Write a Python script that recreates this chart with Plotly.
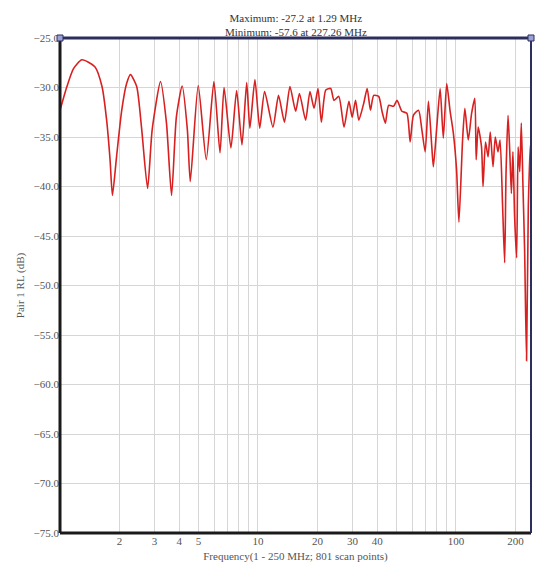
import plotly.graph_objects as go

# frequency (MHz) and return loss (dB)
freq_mhz = [
    1.0, 1.084, 1.17, 1.29, 1.50, 1.63, 1.72, 1.79, 1.84, 1.93, 2.05, 2.17, 2.27,
    2.44, 2.58, 2.77, 2.92, 3.22, 3.45, 3.66, 3.87, 4.14, 4.4, 4.55, 4.99, 5.48,
    5.99, 6.43, 6.74, 7.3, 7.8, 8.3, 8.77, 9.1, 9.65, 10.2, 10.8, 11.9, 12.7,
    13.6, 14.5, 15.5, 16.2, 17.4, 18.3, 19.2, 20.1, 20.9, 22.0, 23.3, 24.2, 25.6,
    27.2, 28.8, 29.9, 31.1, 32.3, 34.2, 35.6, 37.0, 38.4, 40.7, 42.3, 44.0, 45.7,
    48.4, 50.4, 53.3, 56.5, 58.7, 61.0, 64.7, 67.3, 69.9, 72.6, 75.5, 76.9, 80.0,
    83.2, 86.3, 89.8, 93.3, 97.0, 100.7, 103.5, 108.0, 110.9, 115.4, 120.0, 124.5,
    126.5, 129.5, 134.6, 137.0, 141.0, 145.3, 149.0, 153.9, 158.0, 163.0, 167.0,
    172.0, 176.2, 179.0, 183.2, 187.0, 190.5, 194.0, 197.8, 202.5, 206.0, 210.0,
    213.8, 218.0, 222.2, 227.26, 232.0, 238.0, 245.0, 250.0,
]
rl_db = [
    -32.3, -29.9, -28.1, -27.2, -27.9, -29.9, -33.3, -37.3, -40.9, -37.0, -32.3,
    -29.6, -28.7, -29.9, -34.0, -40.2, -34.3, -29.4, -33.6, -40.9, -33.0, -29.85,
    -34.3, -39.5, -29.8, -37.3, -29.4, -36.6, -30.0, -36.1, -30.3, -35.8, -29.5,
    -34.1, -29.2, -34.1, -30.4, -34.0, -30.8, -33.5, -29.9, -32.4, -30.6, -33.3,
    -30.4, -32.1, -30.1, -33.5, -30.25, -30.1, -31.3, -30.9, -34.0, -31.4, -33.0,
    -31.3, -33.3, -31.6, -30.1, -32.3, -30.8, -30.9, -32.4, -33.6, -31.8, -31.9,
    -31.3, -32.4, -32.6, -35.5, -32.8, -32.3, -34.3, -36.5, -31.4, -36.0, -38.0,
    -34.0, -30.1, -35.1, -29.6, -32.3, -34.6, -38.3, -43.6, -35.3, -32.1, -35.3,
    -32.6, -31.1, -37.3, -34.0, -36.0, -40.0, -35.5, -37.0, -34.5, -38.0, -35.0,
    -36.5, -35.3, -42.0, -47.7, -38.7, -32.8, -36.5, -40.7, -36.5, -43.0, -47.2,
    -36.0, -38.5, -33.6, -40.0, -46.4, -57.6, -42.0, -36.0, -34.6, -35.0,
]

x_ticks = [2, 3, 4, 5, 10, 20, 30, 40, 100, 200]
x_grid = [2, 3, 4, 5, 6, 7, 8, 9, 10, 20, 30, 40, 50, 60, 70, 80, 90, 100, 200]
y_ticks = [-25, -30, -35, -40, -45, -50, -55, -60, -65, -70, -75]

serif = "Liberation Serif"
navy = "#2c2e5c"

fig = go.Figure()
fig.add_trace(go.Scatter(
    x=freq_mhz, y=rl_db, mode="lines",
    line=dict(color="#d82020", width=1.6, shape="spline", smoothing=0.6),
    hoverinfo="x+y",
))

fig.update_layout(
    width=535, height=586,
    margin=dict(l=60, r=4, t=38, b=53, autoexpand=False),
    paper_bgcolor="white", plot_bgcolor="white",
    showlegend=False,
    font=dict(family=serif, size=11, color="#555"),
    annotations=[dict(
        text="Maximum: -27.2 at 1.29 MHz<br>Minimum: -57.6 at 227.26 MHz",
        x=0.5, y=1, xref="paper", yref="paper", xanchor="center", yanchor="bottom",
        yshift=-2, showarrow=False, font=dict(family=serif, size=11, color="#333"),
    )],
)

# frame: navy top/right, black left/bottom
frame = [
    ((0, 1, 1, 1), navy, 3),
    ((0, 1, 0, 0), "#1a1a1a", 3),
    ((0, 0, 0, 1), "#1a1a1a", 3),
    ((1, 1, 0, 1), navy, 2),
]
for (x0, x1, y0, y1), col, w in frame:
    fig.add_shape(type="line", xref="paper", yref="paper",
                  x0=x0, x1=x1, y0=y0, y1=y1, line=dict(color=col, width=w))

# small corner markers on the top border
for xc in [0, 1]:
    fig.add_shape(type="rect", xref="paper", yref="paper",
                  xsizemode="pixel", ysizemode="pixel",
                  xanchor=xc, yanchor=1, x0=-3, x1=3, y0=-3, y1=3,
                  line=dict(color=navy, width=1), fillcolor="#9aa0d8")

fig.update_xaxes(
    type="log", range=[0, 2.379],
    tickvals=x_ticks, ticktext=[str(v) for v in x_ticks],
    showgrid=False, zeroline=False, showline=False, ticks="",
    minor=dict(tickvals=x_grid, showgrid=True, gridcolor="#d6d6d6", gridwidth=1, ticks=""),
    tickfont=dict(family=serif, size=11, color="#555"),
    title=dict(text="Frequency(1 - 250 MHz; 801 scan points)", standoff=6,
               font=dict(family=serif, size=11, color="#555")),
)
fig.update_yaxes(
    range=[-75, -25], tickvals=y_ticks, tickformat=".1f",
    showgrid=True, gridcolor="#d6d6d6", gridwidth=1,
    zeroline=False, showline=False, ticks="",
    tickfont=dict(family=serif, size=11, color="#555"),
    title=dict(text="Pair 1 RL (dB)", standoff=6,
               font=dict(family=serif, size=11, color="#555")),
)

fig.write_html("out.html", config={"displayModeBar": False},
               post_script="document.body.style.margin='0px';")
